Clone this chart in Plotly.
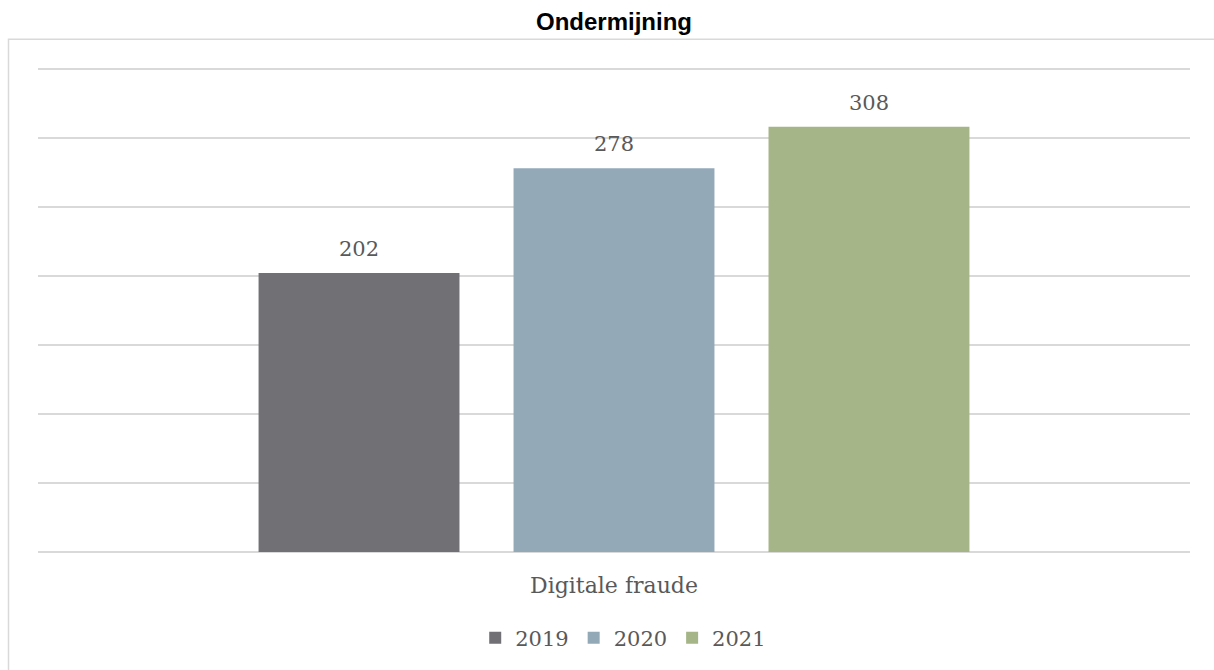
import plotly.graph_objects as go

categories = ["Digitale fraude"]
years = ["2019", "2020", "2021"]
values = [202, 278, 308]
colors = ["#717075", "#93A9B8", "#A6B588"]

W, H = 1214, 670
YMAX = 352
ML, MR, MB = 38, 24, 118
MT = 552 - YMAX * (483 / 350)
BARGAP = 0.336
BARGROUPGAP = 0.212
TXT = "#595959"
SERIF = "DejaVu Serif, Liberation Serif, serif"

fig = go.Figure()
for yr, v, c in zip(years, values, colors):
    fig.add_trace(go.Bar(name=yr, x=categories, y=[v], marker=dict(color=c, line=dict(width=0)),
                         hoverinfo="y"))

# data labels above each bar, placed at the bar centres of the grouped layout
n = len(years)
slot = (1 - BARGAP) / n
for i, v in enumerate(values):
    off = (i - (n - 1) / 2) * slot
    fig.add_annotation(x=off, y=v, xref="x", yref="y", text=str(v), showarrow=False,
                       yanchor="bottom", yshift=10,
                       font=dict(family=SERIF, size=21, color=TXT))

pw = W - ML - MR
ph = H - MT - MB
fig.add_shape(type="rect", xref="paper", yref="paper",
              x0=(8.5 - ML) / pw, x1=(W + 10 - ML) / pw,
              y0=-(H + 10 - MT - ph) / ph, y1=(MT + ph - 39.5) / ph,
              line=dict(color="#D9D9D9", width=1.5), fillcolor="rgba(0,0,0,0)", layer="below")

fig.update_layout(
    width=W, height=H,
    margin=dict(l=ML, r=MR, t=MT, b=MB),
    paper_bgcolor="white", plot_bgcolor="white",
    barmode="group", bargap=BARGAP, bargroupgap=BARGROUPGAP,
    title=dict(text="<b>Ondermijning</b>", x=0.5, xref="paper", xanchor="center",
               y=1 - 22 / H, yref="container", yanchor="middle",
               font=dict(family="Liberation Sans, Arial, sans-serif", size=24, color="#000000")),
    yaxis=dict(range=[0, YMAX], tickvals=[0, 50, 100, 150, 200, 250, 300, 350],
               showticklabels=False, showgrid=True,
               gridcolor="#D9D9D9", gridwidth=1.5, zeroline=True, zerolinecolor="#D9D9D9",
               zerolinewidth=1.5, showline=False, fixedrange=True),
    xaxis=dict(showline=False, ticks="", tickfont=dict(family=SERIF, size=22, color=TXT),
               ticklabelstandoff=18, fixedrange=True),
    legend=dict(orientation="h", x=0.508, xanchor="center", xref="paper",
                y=1 - 638 / H, yref="container", yanchor="middle",
                font=dict(family=SERIF, size=21, color=TXT), itemclick=False,
                traceorder="normal", tracegroupgap=0),
    showlegend=True,
)

fig.write_html("out.html", config={"displayModeBar": False},
               post_script="document.body.style.margin='0';document.body.style.overflow='hidden';")
